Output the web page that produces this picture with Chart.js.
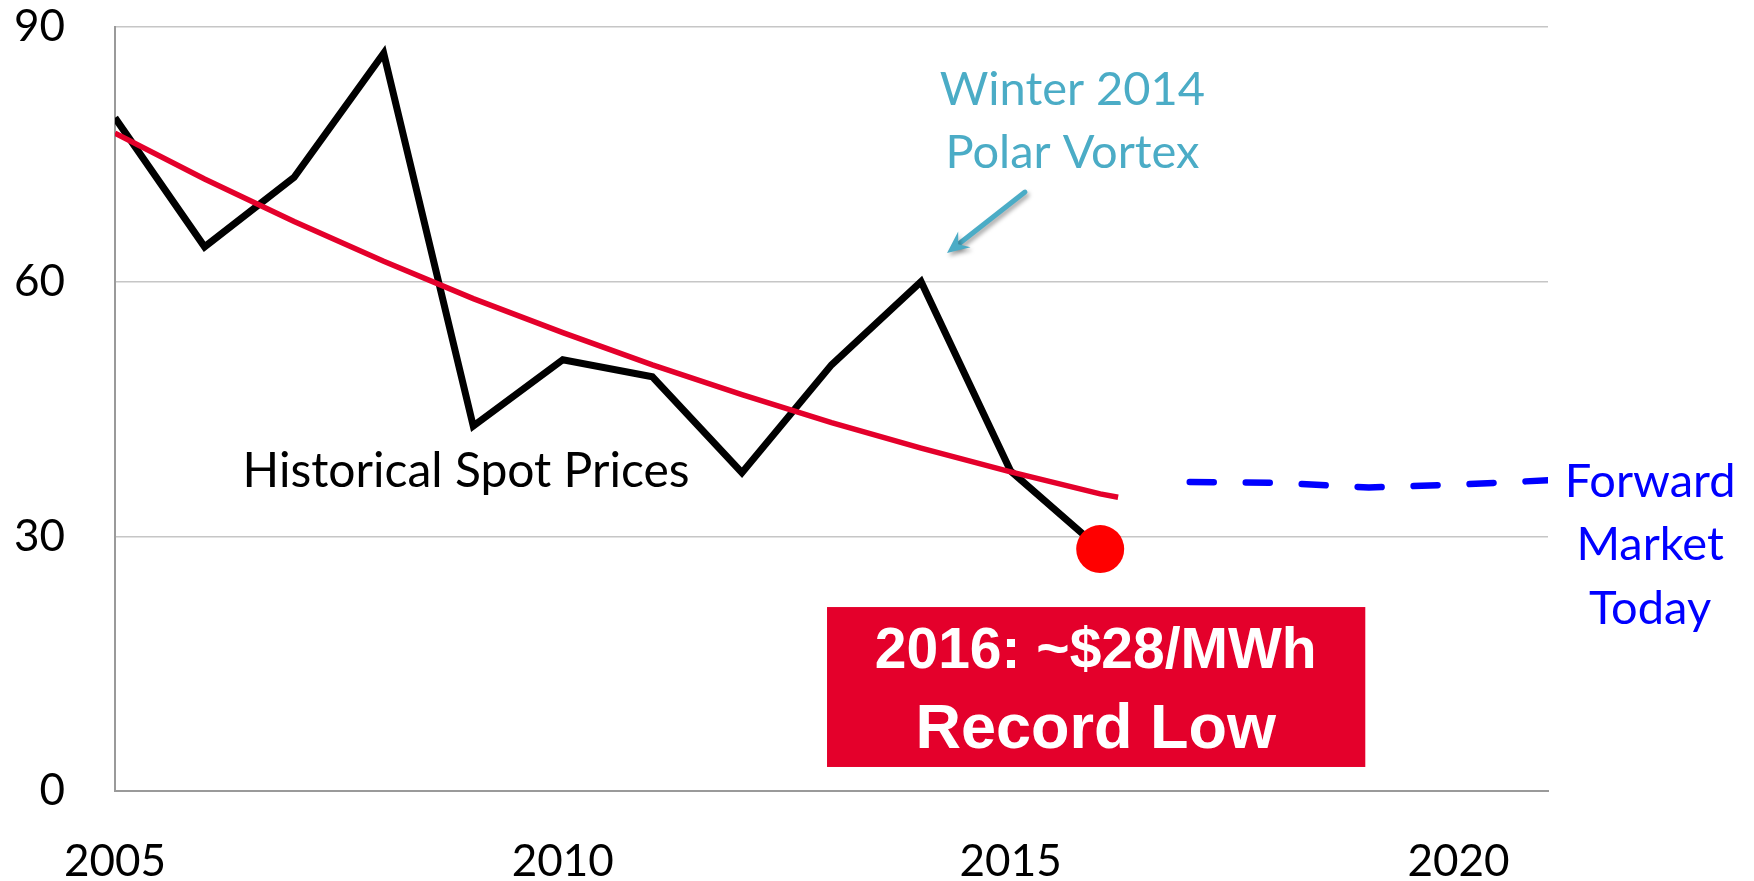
<!DOCTYPE html>
<html>
<head>
<meta charset="utf-8">
<title>Spot prices</title>
<script src="https://cdn.jsdelivr.net/npm/chart.js@4.4.1/dist/chart.umd.min.js"></script>
<style>
  html, body { margin: 0; padding: 0; background: #fff; }
  #wrap { width: 1754px; height: 881px; }
</style>
</head>
<body>
<div id="wrap"><canvas id="priceChart" width="1754" height="881"></canvas></div>
<script>
// values ($/MWh)
const spotYears = [2005, 2006, 2007, 2008, 2009, 2010, 2011, 2012, 2013, 2014, 2015, 2016];
const spotPrices = [79.3, 64.1, 72.3, 86.9, 43.0, 50.8, 48.8, 37.5, 50.2, 60.0, 37.7, 28.5];

const trendYears = [2005, 2006, 2007, 2008, 2009, 2010, 2011, 2012, 2013, 2014, 2015, 2016, 2016.2];
const trendPrices = [77.5, 72.1, 67.1, 62.4, 58.0, 54.0, 50.2, 46.7, 43.4, 40.4, 37.6, 35.0, 34.6];

const forwardYears = [2017, 2018, 2019, 2020, 2021];
const forwardPrices = [36.4, 36.3, 35.75, 36.1, 36.6];

const recordYears = [2016];
const recordPrices = [28.5];

const xTicks = [2005, 2010, 2015, 2020];
const yTicks = [0, 30, 60, 90];

const FONT = "Lato, 'Open Sans', sans-serif";
const TEAL = "#4bacc6";
const CRIMSON = "#e4002b";
const BLUE = "#0000ff";

const toPoints = (xs, ys) => xs.map((x, i) => ({ x: x, y: ys[i] }));

// text, arrow and the red label box, placed in data units
const notesPlugin = {
  id: "notes",
  afterDatasetsDraw(chart) {
    const ctx = chart.ctx;
    const px = v => chart.scales.x.getPixelForValue(v);
    const py = v => chart.scales.y.getPixelForValue(v);

    ctx.save();
    ctx.textAlign = "center";
    ctx.textBaseline = "alphabetic";

    // Historical Spot Prices
    ctx.fillStyle = "#000";
    ctx.font = "48px " + FONT;
    ctx.fillText("Historical Spot Prices", px(2008.92), py(35.8));

    // Winter 2014 / Polar Vortex
    ctx.fillStyle = TEAL;
    ctx.font = "47px " + FONT;
    ctx.fillText("Winter 2014", px(2015.69), py(80.8));
    ctx.fillText("Polar Vortex", px(2015.69), py(73.4));

    // arrow pointing at the 2014 peak
    const x1 = px(2015.16), y1 = py(70.56);
    const x2 = px(2014.29), y2 = py(63.37);
    const ang = Math.atan2(y2 - y1, x2 - x1);
    const cos = Math.cos(ang), sin = Math.sin(ang);
    const headLen = 22, headW = 10;
    ctx.shadowColor = "rgba(0,0,0,0.35)";
    ctx.shadowBlur = 4;
    ctx.shadowOffsetX = 2;
    ctx.shadowOffsetY = 3;
    ctx.strokeStyle = TEAL;
    ctx.fillStyle = TEAL;
    ctx.lineWidth = 5;
    ctx.lineCap = "round";
    ctx.beginPath();
    ctx.moveTo(x1, y1);
    ctx.lineTo(x2 - cos * headLen * 0.6, y2 - sin * headLen * 0.6);
    ctx.stroke();
    ctx.beginPath();
    ctx.moveTo(x2, y2);
    ctx.lineTo(x2 - cos * headLen - sin * headW, y2 - sin * headLen + cos * headW);
    ctx.lineTo(x2 - cos * headLen * 0.65, y2 - sin * headLen * 0.65);
    ctx.lineTo(x2 - cos * headLen + sin * headW, y2 - sin * headLen - cos * headW);
    ctx.closePath();
    ctx.fill();
    ctx.shadowColor = "transparent";

    // Forward Market Today
    ctx.fillStyle = BLUE;
    ctx.font = "47px " + FONT;
    ctx.fillText("Forward", px(2022.14), py(34.6));
    ctx.fillText("Market", px(2022.14), py(27.2));
    ctx.fillText("Today", px(2022.14), py(19.7));

    // red record-low box
    const bx1 = px(2012.95), bx2 = px(2018.96);
    const by1 = py(21.67), by2 = py(2.83);
    ctx.fillStyle = CRIMSON;
    ctx.fillRect(bx1, by1, bx2 - bx1, by2 - by1);
    ctx.fillStyle = "#fff";
    ctx.font = "bold 57px 'Liberation Sans', Arial, sans-serif";
    ctx.fillText("2016: ~$28/MWh", px(2015.95), py(14.49));
    ctx.font = "bold 63px 'Liberation Sans', Arial, sans-serif";
    ctx.fillText("Record Low", px(2015.95), py(5.07));

    ctx.restore();
  }
};

// keep tick label padding from pushing the plot area around
function noScalePadding(scale) {
  scale.paddingTop = 0;
  scale.paddingBottom = 0;
  scale.paddingLeft = 0;
  scale.paddingRight = 0;
}

const ctx = document.getElementById("priceChart").getContext("2d");

new Chart(ctx, {
  type: "line",
  data: {
    datasets: [
      {
        label: "Record low",
        data: toPoints(recordYears, recordPrices),
        showLine: false,
        pointRadius: 24,
        pointBackgroundColor: "#ff0000",
        pointBorderWidth: 0,
        order: 0
      },
      {
        label: "Trend",
        data: toPoints(trendYears, trendPrices),
        borderColor: CRIMSON,
        borderWidth: 5.5,
        pointRadius: 0,
        fill: false,
        order: 1
      },
      {
        label: "Historical Spot Prices",
        data: toPoints(spotYears, spotPrices),
        borderColor: "#000",
        borderWidth: 7,
        pointRadius: 0,
        fill: false,
        order: 2
      },
      {
        label: "Forward Market Today",
        data: toPoints(forwardYears, forwardPrices),
        borderColor: BLUE,
        borderWidth: 6.5,
        borderDash: [24, 32],
        borderCapStyle: "round",
        pointRadius: 0,
        fill: false,
        order: 3
      }
    ]
  },
  options: {
    responsive: false,
    animation: false,
    devicePixelRatio: 1,
    layout: { padding: { top: 27, right: 206, bottom: 0, left: 0 } },
    plugins: {
      legend: { display: false },
      tooltip: { enabled: false }
    },
    scales: {
      x: {
        type: "linear",
        min: 2005,
        max: 2021,
        afterBuildTicks: scale => { scale.ticks = xTicks.map(v => ({ value: v })); },
        afterFit: scale => { scale.height = 90; noScalePadding(scale); },
        grid: { display: false, drawTicks: false },
        border: { display: true, color: "#9a9a9a", width: 2 },
        ticks: {
          color: "#000",
          padding: 44,
          maxRotation: 0,
          font: { family: FONT, size: 44 },
          callback: v => String(v)
        }
      },
      y: {
        min: 0,
        max: 90,
        afterBuildTicks: scale => { scale.ticks = yTicks.map(v => ({ value: v })); },
        afterFit: scale => { scale.width = 115; noScalePadding(scale); },
        grid: {
          drawTicks: false,
          lineWidth: 1.5,
          color: c => (c.tick && c.tick.value === 0 ? "#9a9a9a" : "#c6c6c6")
        },
        border: { display: true, color: "#9a9a9a", width: 2 },
        ticks: {
          color: "#000",
          padding: 50,
          font: { family: FONT, size: 44 },
          callback: v => String(v)
        }
      }
    }
  },
  plugins: [notesPlugin]
});
</script>
</body>
</html>
